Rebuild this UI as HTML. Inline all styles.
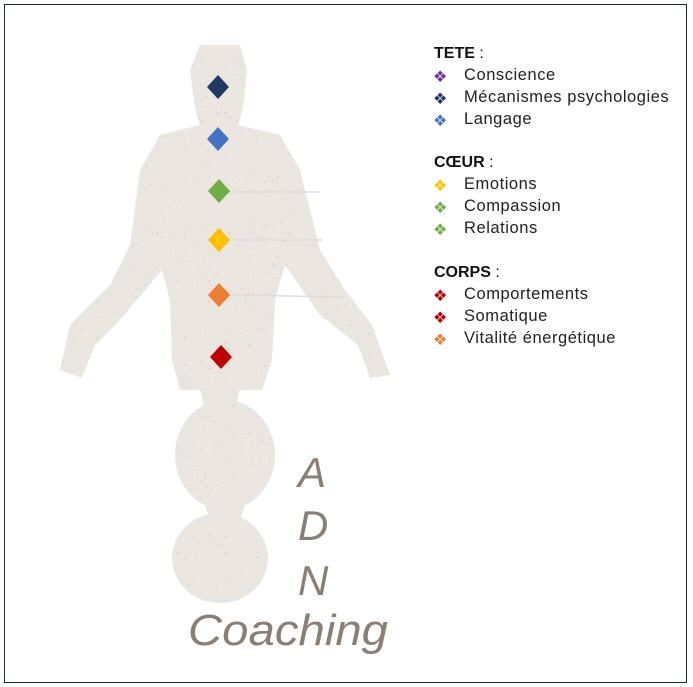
<!DOCTYPE html>
<html><head><meta charset="utf-8"><style>
body{margin:0;width:693px;height:687px;background:#fff;overflow:hidden;position:relative;font-family:"Liberation Sans",sans-serif}
.frame{position:absolute;left:4px;top:4px;width:683px;height:679px;border:1.5px solid #1f2a33;box-sizing:border-box}
.t{position:absolute;font-size:16.5px;letter-spacing:0.55px;color:#222;white-space:nowrap;left:464px}
.i{position:absolute;font-size:16px;left:433px}
.h{position:absolute;left:434px;font-size:16px;font-weight:bold;color:#111;white-space:nowrap}
</style></head><body>
<div class="frame"></div>
<svg width="693" height="687" style="position:absolute;left:0;top:0">
<defs><filter id="n"><feTurbulence baseFrequency="0.25" numOctaves="2" seed="3"/><feColorMatrix values="0 0 0 0 0.55 0 0 0 0 0.52 0 0 0 0 0.48 0 0 0 1.4 -0.6"/><feComposite in2="SourceGraphic" operator="in"/></filter></defs>
<g fill="#ebe6df">
<path id="b" d="M200 45 L240 45 L247 70 L243 108 L238 125 L280 135 L300 170 L320 250 L345 290 L372 325 L390 375 L370 378 L358 345 L320 315 L285 265 L275 300 L272 360 L262 390 L180 390 L172 360 L170 300 L162 270 L120 320 L95 345 L82 378 L60 370 L70 325 L110 285 L130 245 L140 170 L160 135 L200 125 L195 108 L190 70 Z"/>
<ellipse cx="225" cy="455" rx="50" ry="55"/>
<ellipse cx="220" cy="558" rx="48" ry="45"/>
<path d="M200 388 L240 388 L235 410 L205 410 Z"/>
<path d="M205 505 L245 505 L240 520 L210 520 Z"/>
</g>
<g filter="url(#n)"><use href="#b"/><ellipse cx="225" cy="455" rx="50" ry="55"/><ellipse cx="220" cy="558" rx="48" ry="45"/></g>
<g stroke="#e0dbd4" stroke-width="1.5"><line x1="230" y1="192" x2="320" y2="192"/><line x1="230" y1="240" x2="322" y2="240"/><line x1="230" y1="295" x2="345" y2="297"/></g>
<polygon points="218,75 229,87 218,99 207,87" fill="#1f3864"/>
<polygon points="218,127 229,139 218,151 207,139" fill="#4472c4"/>
<polygon points="219,179 230,191 219,203 208,191" fill="#70ad47"/>
<polygon points="219,228 230,240 219,252 208,240" fill="#ffc000"/>
<polygon points="219,283 230,295 219,307 208,295" fill="#ed7d31"/>
<polygon points="221,345 232,357 221,369 210,357" fill="#c00000"/>
<g font-family="Liberation Sans,sans-serif" fill="#8a7f74" font-style="italic">
<text x="298" y="487" font-size="42">A</text>
<text x="298" y="540" font-size="42">D</text>
<text x="298" y="595" font-size="42">N</text>
<text x="188" y="645" font-size="44" textLength="200" lengthAdjust="spacingAndGlyphs">Coaching</text>
</g>
</svg>
<div class="h" style="top:45px">TETE <span style="font-weight:normal">:</span></div>
<div class="i" style="top:67px;color:#7030a0">❖</div><div class="t" style="top:66px">Conscience</div>
<div class="i" style="top:89px;color:#1f3864">❖</div><div class="t" style="top:88px">Mécanismes psychologies</div>
<div class="i" style="top:111px;color:#4472c4">❖</div><div class="t" style="top:110px">Langage</div>
<div class="h" style="top:154px">CŒUR <span style="font-weight:normal">:</span></div>
<div class="i" style="top:176px;color:#ffc000">❖</div><div class="t" style="top:175px">Emotions</div>
<div class="i" style="top:198px;color:#70ad47">❖</div><div class="t" style="top:197px">Compassion</div>
<div class="i" style="top:220px;color:#70ad47">❖</div><div class="t" style="top:219px">Relations</div>
<div class="h" style="top:264px">CORPS <span style="font-weight:normal">:</span></div>
<div class="i" style="top:286px;color:#c00000">❖</div><div class="t" style="top:285px">Comportements</div>
<div class="i" style="top:308px;color:#c00000">❖</div><div class="t" style="top:307px">Somatique</div>
<div class="i" style="top:330px;color:#ed7d31">❖</div><div class="t" style="top:329px">Vitalité énergétique</div>
</body></html>
